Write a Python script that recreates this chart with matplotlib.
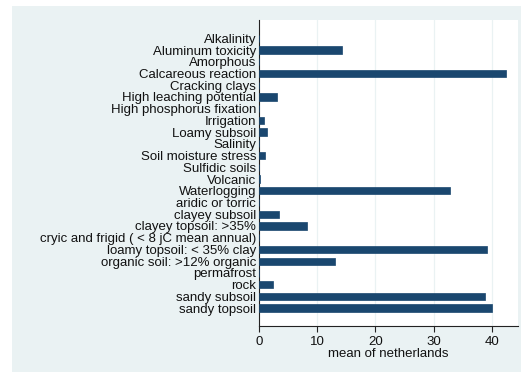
import matplotlib
matplotlib.use("Agg")
import matplotlib.pyplot as plt
import numpy as np

categories = ["Alkalinity", "Aluminum toxicity", "Amorphous", "Calcareous reaction",
              "Cracking clays", "High leaching potential", "High phosphorus fixation",
              "Irrigation", "Loamy subsoil", "Salinity", "Soil moisture stress",
              "Sulfidic soils", "Volcanic", "Waterlogging", "aridic or torric",
              "clayey subsoil", "clayey topsoil: >35%", "cryic and frigid ( < 8 jC mean annual)",
              "loamy topsoil: < 35% clay", "organic soil: >12% organic", "permafrost",
              "rock", "sandy subsoil", "sandy topsoil"]
values = [0.0, 14.3, 0.0, 42.4, 0.0, 3.1, 0.0, 0.9, 1.3, 0.0, 1.1, 0.0, 0.25,
          32.8, 0.0, 3.5, 8.3, 0.0, 39.1, 13.0, 0.0, 2.4, 38.9, 40.1]
xticks = [0, 10, 20, 30, 40]
xlabel = "mean of netherlands"

plt.rcParams['font.family'] = ['Liberation Sans', 'DejaVu Sans']
W, H = 521, 372
fig = plt.figure(figsize=(W/100, H/100), dpi=100)
fig.patch.set_facecolor('white')
# Stata graph region background
bg = plt.Rectangle((12/W, 0), 1 - 12/W, 1 - 6/H, transform=fig.transFigure,
                   facecolor='#EAF2F3', edgecolor='none', zorder=-10)
fig.patches.append(bg)

ax = fig.add_axes([259/W, 1 - 326/H, (518-259)/W, (326-20)/H])
ax.set_zorder(1)
ax.set_facecolor('white')
n = len(categories)
y = np.arange(n)
ax.barh(y, values, height=0.62, color='#1a476f', edgecolor='#1a476f', linewidth=0.5, zorder=3)
ax.set_ylim(n - 1 + 1.53, -1.56)
ax.set_xlim(0, 44.5)
ax.set_yticks(y)
fs = 9.5
ax.set_yticklabels(categories, fontsize=fs, color='#111111')
ax.tick_params(axis='y', length=0, pad=2)
ax.set_xticks(xticks)
ax.set_xticklabels([str(t) for t in xticks], fontsize=fs, color='#111111')
ax.tick_params(axis='x', length=4.5, width=0.8, color='#222222', pad=3)
for t in xticks[1:]:
    ax.axvline(t, color='#EAF2F3', linewidth=0.9, zorder=1)
ax.set_xlabel(xlabel, fontsize=fs, color='#111111', labelpad=0)
for s in ['top', 'right']:
    ax.spines[s].set_visible(False)
for s in ['left', 'bottom']:
    ax.spines[s].set_color('#222222')
    ax.spines[s].set_linewidth(0.8)

fig.savefig('out.png', dpi=100, facecolor=fig.get_facecolor())
